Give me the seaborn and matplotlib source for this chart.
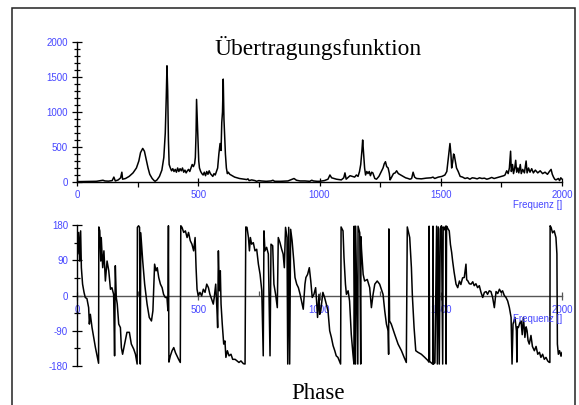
import matplotlib
matplotlib.use("Agg")
import matplotlib.pyplot as plt
from matplotlib.patches import Rectangle
from matplotlib.ticker import MultipleLocator
import seaborn as sns
import numpy as np

# ---------------- data ----------------
mag_freq = [0, 40, 80, 100, 107, 115, 130, 145, 152, 158, 170, 180, 185, 188, 200, 215, 231, 245, 255, 262,
            271, 278, 285, 293, 300, 310, 318, 322, 330, 340, 350, 358, 364, 368, 371, 374, 377, 380, 385, 390,
            395, 400, 405, 410, 415, 420, 425, 430, 435, 440, 445, 450, 455, 460, 465, 470, 475, 480, 485, 488,
            491, 493, 496, 499, 502, 505, 510, 515, 520, 525, 530, 535, 540, 545, 550, 555, 560, 565, 570, 575,
            580, 585, 590, 594, 597, 600, 603, 606, 609, 612, 616, 620, 624, 630, 640, 650, 660, 670, 680, 690,
            700, 705, 710, 720, 734, 740, 750, 760, 780, 800, 808, 815, 840, 870, 885, 895, 905, 920, 940, 960,
            968, 975, 990, 1000, 1020, 1035, 1043, 1050, 1070, 1090, 1100, 1105, 1110, 1120, 1126, 1135, 1145,
            1152, 1159, 1165, 1170, 1175, 1178, 1182, 1186, 1190, 1195, 1200, 1205, 1210, 1215, 1220, 1228, 1235,
            1245, 1255, 1262, 1267, 1272, 1277, 1283, 1288, 1291, 1296, 1305, 1312, 1318, 1325, 1335, 1345, 1355,
            1365, 1373, 1380, 1386, 1392, 1400, 1420, 1440, 1460, 1468, 1475, 1490, 1505, 1517, 1525, 1530, 1535,
            1538, 1542, 1545, 1549, 1553, 1556, 1560, 1565, 1572, 1580, 1590, 1600, 1610, 1620, 1630, 1640, 1650,
            1660, 1670, 1680, 1690, 1700, 1710, 1720, 1730, 1740, 1750, 1760, 1765, 1772, 1778, 1783, 1788, 1791,
            1796, 1800, 1805, 1809, 1813, 1818, 1822, 1828, 1832, 1838, 1845, 1852, 1856, 1862, 1868, 1875, 1882,
            1890, 1900, 1910, 1920, 1930, 1940, 1948, 1955, 1960, 1965, 1970, 1975, 1985, 1990, 1995, 2000]
mag_vals = [5, 8, 10, 20, 25, 15, 12, 20, 70, 15, 30, 60, 140, 40, 50, 80, 130, 200, 300, 420,
            480, 440, 330, 200, 110, 50, 20, 10, 30, 80, 170, 350, 700, 1200, 1660, 1300, 600, 250, 200, 160,
            190, 150, 180, 140, 200, 150, 190, 160, 200, 140, 170, 130, 160, 180, 150, 200, 250, 220, 260, 350,
            700, 1180, 900, 650, 300, 200, 150, 120, 100, 140, 90, 150, 110, 160, 120, 100, 80, 120, 100, 150,
            200, 400, 550, 450, 850, 1000, 1470, 900, 640, 400, 200, 120, 140, 110, 90, 70, 60, 50, 45, 40,
            35, 45, 20, 30, 20, 10, 20, 15, 10, 15, 25, 10, 10, 15, 35, 50, 25, 15, 15, 10,
            25, 15, 10, 10, 20, 40, 100, 60, 40, 30, 60, 130, 40, 70, 90, 80, 70,
            100, 80, 150, 250, 450, 600, 400, 200, 100, 150, 120, 150, 90, 140, 130, 50, 40,
            80, 150, 200, 260, 290, 220, 200, 120, 30, 60, 120, 130, 160, 120, 100, 80, 60,
            50, 40, 50, 140, 70, 50, 45, 55, 60, 70, 50, 70, 80, 100, 150, 300, 450,
            550, 400, 200, 280, 400, 380, 300, 200, 150, 80, 70, 50, 60, 40, 60, 55, 45,
            60, 50, 55, 40, 50, 65, 50, 60, 70, 80, 90, 100, 160, 120, 200, 440, 150,
            250, 120, 200, 310, 140, 200, 130, 250, 120, 180, 130, 300, 130, 200, 140, 190, 130,
            170, 130, 160, 120, 140, 110, 150, 180, 110, 70, 40, 30, 50, 20, 60, 40]

phase_freq = [0, 3, 7, 11, 15, 18, 23, 29, 34, 41, 48, 51, 55, 62, 76, 89, 90, 94, 98, 100,
              106, 111, 117, 124, 131, 138, 144, 151, 155, 158, 162, 166, 172, 179, 183, 188, 199, 206, 216, 224,
              234, 241, 248, 249, 254, 258, 261, 263, 271, 279, 289, 298, 307, 313, 320, 326, 331, 337, 344, 351,
              357, 364, 371, 375, 377, 379, 385, 392, 399, 406, 412, 419, 426, 428, 433, 440, 447, 454, 460, 467,
              474, 481, 487, 491, 495, 500, 507, 514, 521, 528, 535, 542, 548, 555, 562, 566, 572, 577, 580, 583,
              587, 591, 594, 599, 605, 610, 614, 620, 627, 635, 642, 652, 660, 668, 676, 686, 693, 696, 701, 707,
              711, 715, 720, 727, 734, 741, 748, 755, 762, 768, 771, 775, 782, 789, 796, 800, 807, 812, 819, 826,
              830, 837, 844, 850, 855, 860, 866, 869, 873, 877, 881, 887, 894, 899, 906, 913, 920, 926, 933, 940,
              944, 951, 958, 964, 970, 977, 984, 988, 992, 998,
              1001, 1005, 1014, 1021, 1035, 1042, 1049, 1056, 1063, 1069, 1076, 1087, 1089, 1097, 1101, 1107, 1111,
              1118, 1124, 1131, 1138, 1142, 1143, 1148, 1149, 1158, 1159, 1166, 1170, 1171, 1173, 1180, 1186, 1197,
              1207, 1214, 1221, 1228, 1238, 1248, 1262, 1269, 1276, 1283, 1285, 1286, 1289, 1296, 1310, 1324, 1338,
              1349, 1358, 1362, 1372, 1379, 1383, 1390, 1397, 1406, 1420, 1434, 1447, 1451, 1452, 1454, 1461, 1467,
              1468, 1470, 1476, 1483, 1486, 1490, 1494, 1498, 1503, 1508, 1510, 1515, 1520, 1522, 1524, 1530, 1535,
              1540, 1545, 1549, 1555, 1563, 1570, 1577, 1583, 1590, 1597, 1604, 1607, 1611, 1618, 1625, 1632, 1638,
              1645, 1652, 1659, 1666, 1673, 1680, 1687, 1693, 1700, 1707, 1714, 1721, 1728, 1735, 1742, 1749, 1755,
              1762, 1769, 1776, 1783, 1790, 1794, 1798, 1806, 1812, 1814, 1816, 1820, 1826, 1831, 1836, 1841, 1847,
              1852, 1856, 1860, 1865, 1872, 1878, 1886, 1893, 1900, 1907, 1913, 1920, 1927, 1934, 1941, 1946, 1950,
              1951, 1955, 1961, 1968, 1975, 1979, 1981, 1985, 1990, 1996, 2000]
phase_vals = [161, 106, 161, 88, 165, 71, 29, 8, -5, -8, -31, -73, -48, -82, -133, -173, 175, 165, 88, 148,
              71, 114, 37, 88, 63, 16, 20, 3, -154, 76, -5, -22, -73, -82, -133, -150, -116, -94, -94, -124,
              -137, -150, -175, 174, 178, 174, -175, 160, 88, 29, -22, -56, -65, -39, 80, 63, 71, 46, 29, 20,
              3, -5, -5, -39, 178, -170, -154, -141, -133, -146, -154, -163, -171, 178, 174, 161, 165, 148, 161, 140,
              131, 114, 148, 71, 16, -1, 8, -1, 16, 8, 29, 20, 3, -9, -22, -5, 29, -35, -82, 114,
              12, 63, -22, -73, -124, -116, -158, -141, -154, -150, -163, -163, -167, -171, -167, -174, -175, 175, 174, 148,
              114, 148, 131, 135, 114, 118, 80, 54, 12, -154, 165, 114, 123, 106, -154, 131, 127, 29, 3, -31,
              148, 135, 118, 106, 71, 174, 148, -175, 174, -175, 169, 140, 88, 46, 29, 20, 3, -14, -35, 29,
              46, 54, 71, 37, -5, 3, 20, -14, -56, 3,
              -48, -40, 8, -5, -39, -90, -107, -128, -141, -154, -158, -175, 175, 165, 97, 29, 3,
              12, -14, -99, -150, -175, 177, -175, 177, -175, 177, 160, -175, 150, 120, 54, 37, 41,
              20, -31, 3, 29, 37, 29, 3, -39, -73, -90, -150, 170, -65, -73, -99, -124, -141,
              -158, -171, 175, 148, 71, -1, -82, -141, -145, -150, -158, -166, -170, 177, -168, -172, -175,
              177, -175, -172, 177, -175, 175, -175, 170, 178, -175, 175, 168, 177, -175, 177, 170, 165,
              130, 110, 88, 60, 29, 20, 37, 28, 45, 46, 80, 40, 38, 30, 29, 35, 25,
              30, 20, 25, 8, -5, 8, 10, 3, 12, 10, -5, -31, 10, 5, 16, 8, 12,
              0, -5, -14, -31, -56, -175, -73, -56, -90, -170, -80, -82, -70, -65, -100, -56, -107,
              -80, -90, -115, -124, -102, -130, -141, -130, -150, -145, -158, -150, -163, -158, -167, -170, -171,
              178, 174, 160, 165, 148, 106, -124, -150, -141, -155, -145]

x_ticks = [0, 500, 1000, 1500, 2000]
mag_ticks = [0, 500, 1000, 1500, 2000]
phase_ticks = [-180, -90, 0, 90, 180]
title_top = "Übertragungsfunktion"
title_bottom = "Phase"
x_label = "Frequenz []"

# ---------------- style ----------------
sns.set_theme(style="white")
plt.rcParams["font.family"] = ["Liberation Sans", "DejaVu Sans"]
BLUE = "#4646ff"
W, H = 579, 405

fig = plt.figure(figsize=(W / 100, H / 100), dpi=100)
fig.patch.set_facecolor("white")


def fx(px):
    return px / W


def fy(py):
    return 1 - py / H


ax1 = fig.add_axes([fx(77), fy(182), fx(562) - fx(77), fy(42) - fy(182)])
ax2 = fig.add_axes([fx(77), fy(366), fx(562) - fx(77), fy(225) - fy(366)])

sns.lineplot(x=mag_freq, y=mag_vals, ax=ax1, color="black", lw=1.1, sort=False, estimator=None)
sns.lineplot(x=phase_freq, y=phase_vals, ax=ax2, color="black", lw=1.1, sort=False, estimator=None)

for ax in (ax1, ax2):
    ax.set_facecolor("none")
    ax.set_xlim(0, 2000)
    ax.grid(False)
    ax.spines["top"].set_visible(False)
    ax.spines["right"].set_visible(False)
    ax.spines["left"].set_color("black")
    ax.spines["left"].set_linewidth(1.0)
    ax.set_xticks(x_ticks)
    ax.set_xticklabels([str(t) for t in x_ticks])
    ax.xaxis.set_minor_locator(MultipleLocator(250))
    ax.tick_params(axis="both", which="both", labelsize=7, labelcolor=BLUE, color="black", width=0.9)
    ax.tick_params(axis="y", which="major", direction="inout", length=7, pad=3, left=True)
    ax.tick_params(axis="y", which="minor", direction="inout", length=4.3, left=True)
    ax.set_xlabel("")
    ax.set_ylabel("")

ax1.set_ylim(0, 2000)
ax1.set_yticks(mag_ticks)
ax1.set_yticklabels([str(t) for t in mag_ticks])
ax1.yaxis.set_minor_locator(MultipleLocator(100))
ax1.spines["bottom"].set_color("black")
ax1.spines["bottom"].set_linewidth(1.0)
ax1.tick_params(axis="x", which="major", direction="inout", length=6, pad=3, bottom=True)
ax1.tick_params(axis="x", which="minor", direction="out", length=3.5, bottom=True)

ax2.set_ylim(-180, 180)
ax2.set_yticks(phase_ticks)
ax2.set_yticklabels([str(t) for t in phase_ticks])
ax2.yaxis.set_minor_locator(MultipleLocator(45))
ax2.spines["bottom"].set_position(("data", 0))
ax2.spines["bottom"].set_color("#555555")
ax2.spines["bottom"].set_linewidth(1.0)
ax2.spines["bottom"].set_zorder(1)
ax2.tick_params(axis="x", which="major", direction="inout", length=6, pad=4, bottom=True, color="#555555")
ax2.tick_params(axis="x", which="minor", direction="in", length=3.5, bottom=True, color="#555555")

# titles and axis captions
fig.text(fx(318), fy(55), title_top, ha="center", va="baseline", fontsize=16.8,
         family=["Liberation Serif", "DejaVu Serif"], color="black")
fig.text(fx(318), fy(399), title_bottom, ha="center", va="baseline", fontsize=16.5,
         family=["Liberation Serif", "DejaVu Serif"], color="black")
fig.text(fx(513), fy(205), x_label, ha="left", va="center", fontsize=7, color=BLUE)
fig.text(fx(513), fy(319), x_label, ha="left", va="center", fontsize=7, color=BLUE)

# outer frame
fig.patches.append(Rectangle((fx(12), -0.02), fx(575) - fx(12), fy(8) + 0.02,
                             transform=fig.transFigure, fill=False, edgecolor="#222222",
                             linewidth=1.1, clip_on=False))

fig.savefig("out.png", dpi=100, facecolor="white")
